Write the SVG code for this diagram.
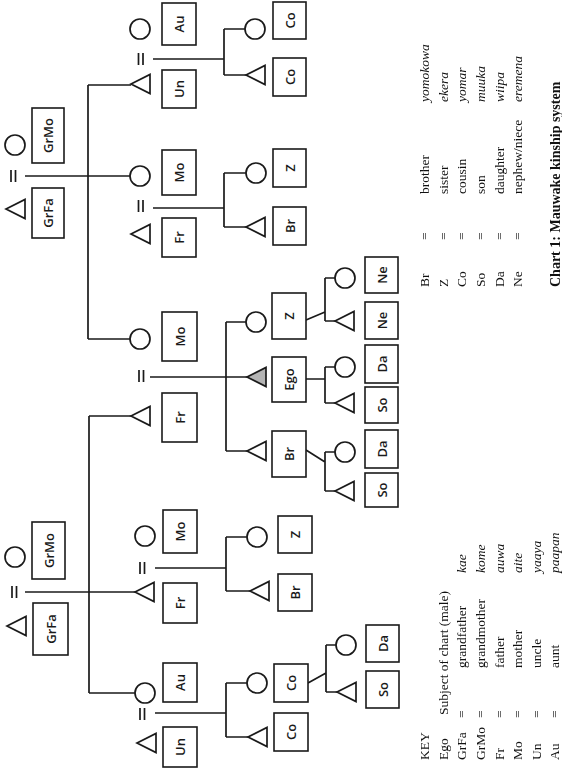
<svg xmlns="http://www.w3.org/2000/svg" xmlns:xlink="http://www.w3.org/1999/xlink" width="562" height="768" viewBox="0 0 562 768">
  <style>
    .ln { fill: none; stroke: #1a1a1a; stroke-width: 1.7; }
    .sym { fill: #fff; stroke: #1a1a1a; stroke-width: 1.7; }
    .ego { fill: #b4b4b4; stroke: #1a1a1a; stroke-width: 1.7; }
    .bx { fill: #fff; stroke: #1a1a1a; stroke-width: 1.6; }
    .lbl { font-family: "Open Sans", "DejaVu Sans", sans-serif; font-size: 13px; font-weight: 600; fill: #1a1a1a; text-anchor: middle; dominant-baseline: central; }
    .key { font-family: "Liberation Serif", "Times New Roman", serif; font-size: 13.5px; fill: #111; }
    .it { font-style: italic; }
    .ttl { font-family: "Liberation Serif", "Times New Roman", serif; font-size: 14px; font-weight: bold; fill: #111; }
  </style>
  <defs>
    <!-- male symbol: triangle with its apex on the left -->
    <path id="tri" d="M0 0 L19 -9.5 L19 9.5 Z"/>
    <!-- marriage sign drawn as two short bars -->
    <path id="eq" d="M0 0 v12 M4.5 0 v12"/>
    <!-- pass-through filter: renders the key in its own buffer with grey-scale smoothing -->
    <filter id="flat" x="0" y="0" width="1" height="1">
      <feOffset dx="0" dy="0"/>
    </filter>
  </defs>

  <!-- connectors -->
  <g id="connectors" class="ln">
    <!-- upper grandparents -->
    <use xlink:href="#eq" x="11" y="170"/>
    <path d="M25 176 H130"/>
    <path d="M88 85 V339 M88 85 H131 M88 339 H130"/>
    <!-- Un = Au (upper) -->
    <use xlink:href="#eq" x="138.5" y="53"/>
    <path d="M153 59 H224 M224 29 V75 M224 29 H245 M224 75 H246"/>
    <!-- Fr = Mo (upper) -->
    <use xlink:href="#eq" x="138.5" y="200"/>
    <path d="M153 208 H224 M224 173 V227 M224 173 H246 M224 227 H246"/>
    <!-- Ego's parents -->
    <use xlink:href="#eq" x="139" y="370"/>
    <path d="M150 377 H247 M226 322 V451 M226 322 H246 M226 451 H247"/>
    <!-- Z's children -->
    <path d="M306 320 L325 312 M325 278 V321 M325 278 H335 M325 321 H335"/>
    <!-- Ego's children -->
    <path d="M306 379 H325 M325 367 V403 M325 367 H335 M325 403 H335"/>
    <!-- Br's children -->
    <path d="M306 450 L325 462 M325 452 V491 M325 452 H335 M325 491 H335"/>
    <!-- lower grandparents -->
    <use xlink:href="#eq" x="12" y="586"/>
    <path d="M25 592 H135"/>
    <path d="M89 416 V693 M89 416 H131 M89 693 H135"/>
    <!-- Fr = Mo (lower) -->
    <use xlink:href="#eq" x="140" y="562"/>
    <path d="M155 568 H226 M226 537 V591 M226 537 H247 M226 591 H250"/>
    <!-- Un = Au (lower) -->
    <use xlink:href="#eq" x="140" y="708"/>
    <path d="M155 713 H226 M226 683 V737 M226 683 H247 M226 737 H248"/>
    <!-- Co's children -->
    <path d="M308 683 L326 673 M326 645 V692 M326 645 H336 M326 692 H337"/>
  </g>

  <!-- upper grandparents -->
  <g id="grfa-1"><use xlink:href="#tri" class="sym" x="6" y="209"/><rect class="bx" x="32" y="188" width="32" height="50"/><text class="lbl" x="48" y="213" transform="rotate(-90 48 213)">GrFa</text></g>
  <g id="grmo-1"><circle class="sym" cx="15" cy="145" r="10"/><rect class="bx" x="32" y="108" width="32" height="55"/><text class="lbl" x="48" y="135.5" transform="rotate(-90 48 135.5)">GrMo</text></g>

  <g id="un-1"><use xlink:href="#tri" class="sym" x="131" y="84"/><rect class="bx" x="162" y="70" width="34" height="38"/><text class="lbl" x="179" y="89" transform="rotate(-90 179 89)">Un</text></g>
  <g id="au-1"><circle class="sym" cx="140" cy="29" r="10"/><rect class="bx" x="162" y="3" width="34" height="42"/><text class="lbl" x="179" y="24" transform="rotate(-90 179 24)">Au</text></g>
  <g id="mo-1"><circle class="sym" cx="140" cy="176" r="10"/><rect class="bx" x="162" y="150" width="34" height="45"/><text class="lbl" x="179" y="172.5" transform="rotate(-90 179 172.5)">Mo</text></g>
  <g id="fr-1"><use xlink:href="#tri" class="sym" x="131" y="234"/><rect class="bx" x="162" y="218" width="34" height="39"/><text class="lbl" x="179" y="237.5" transform="rotate(-90 179 237.5)">Fr</text></g>

  <g id="co-1"><circle class="sym" cx="255" cy="29" r="10"/><rect class="bx" x="273" y="2" width="33" height="37"/><text class="lbl" x="289.5" y="20.5" transform="rotate(-90 289.5 20.5)">Co</text></g>
  <g id="co-2"><use xlink:href="#tri" class="sym" x="246" y="75"/><rect class="bx" x="273" y="58" width="33" height="38"/><text class="lbl" x="289.5" y="77" transform="rotate(-90 289.5 77)">Co</text></g>
  <g id="z-1"><circle class="sym" cx="256" cy="173" r="10"/><rect class="bx" x="273" y="149" width="33" height="38"/><text class="lbl" x="289.5" y="168" transform="rotate(-90 289.5 168)">Z</text></g>
  <g id="br-1"><use xlink:href="#tri" class="sym" x="246" y="227"/><rect class="bx" x="273" y="207" width="33" height="38"/><text class="lbl" x="289.5" y="226" transform="rotate(-90 289.5 226)">Br</text></g>

  <!-- Ego's parents and siblings -->
  <g id="mo-ego"><circle class="sym" cx="140" cy="339" r="10"/><rect class="bx" x="162" y="312" width="35" height="49"/><text class="lbl" x="179.5" y="336.5" transform="rotate(-90 179.5 336.5)">Mo</text></g>
  <g id="fr-ego"><use xlink:href="#tri" class="sym" x="131" y="416"/><rect class="bx" x="162" y="393" width="35" height="49"/><text class="lbl" x="179.5" y="417.5" transform="rotate(-90 179.5 417.5)">Fr</text></g>
  <g id="z-ego"><circle class="sym" cx="256" cy="322" r="10"/><rect class="bx" x="272" y="293" width="34" height="46"/><text class="lbl" x="289" y="316" transform="rotate(-90 289 316)">Z</text></g>
  <g id="ego"><use xlink:href="#tri" class="ego" x="247" y="377"/><rect class="bx" x="272" y="357" width="34" height="45"/><text class="lbl" x="289" y="379.5" transform="rotate(-90 289 379.5)">Ego</text></g>
  <g id="br-ego"><use xlink:href="#tri" class="sym" x="247" y="451"/><rect class="bx" x="272" y="431" width="34" height="46"/><text class="lbl" x="289" y="454" transform="rotate(-90 289 454)">Br</text></g>

  <!-- Ego's generation's children -->
  <g id="ne-1"><circle class="sym" cx="345" cy="278" r="10"/><rect class="bx" x="365" y="257" width="33" height="36"/><text class="lbl" x="381.5" y="275" transform="rotate(-90 381.5 275)">Ne</text></g>
  <g id="ne-2"><use xlink:href="#tri" class="sym" x="335" y="321"/><rect class="bx" x="365" y="302" width="33" height="37"/><text class="lbl" x="381.5" y="320.5" transform="rotate(-90 381.5 320.5)">Ne</text></g>
  <g id="da-ego"><circle class="sym" cx="345" cy="367" r="10"/><rect class="bx" x="365" y="345" width="33" height="38"/><text class="lbl" x="381.5" y="364" transform="rotate(-90 381.5 364)">Da</text></g>
  <g id="so-ego"><use xlink:href="#tri" class="sym" x="335" y="403"/><rect class="bx" x="365" y="387" width="33" height="36"/><text class="lbl" x="381.5" y="405" transform="rotate(-90 381.5 405)">So</text></g>
  <g id="da-br"><circle class="sym" cx="345" cy="452" r="10"/><rect class="bx" x="365" y="430" width="33" height="38"/><text class="lbl" x="381.5" y="449" transform="rotate(-90 381.5 449)">Da</text></g>
  <g id="so-br"><use xlink:href="#tri" class="sym" x="335" y="491"/><rect class="bx" x="365" y="473" width="33" height="34"/><text class="lbl" x="381.5" y="490" transform="rotate(-90 381.5 490)">So</text></g>

  <!-- lower grandparents -->
  <g id="grmo-2"><circle class="sym" cx="15" cy="557" r="10"/><rect class="bx" x="32" y="522" width="33" height="57"/><text class="lbl" x="48.5" y="550.5" transform="rotate(-90 48.5 550.5)">GrMo</text></g>
  <g id="grfa-2"><use xlink:href="#tri" class="sym" x="7" y="626"/><rect class="bx" x="33" y="603" width="35" height="52"/><text class="lbl" x="50.5" y="629" transform="rotate(-90 50.5 629)">GrFa</text></g>

  <g id="mo-2"><circle class="sym" cx="145" cy="536" r="10"/><rect class="bx" x="163" y="510" width="34" height="43"/><text class="lbl" x="180" y="531.5" transform="rotate(-90 180 531.5)">Mo</text></g>
  <g id="fr-2"><use xlink:href="#tri" class="sym" x="135" y="592"/><rect class="bx" x="163" y="583" width="34" height="40"/><text class="lbl" x="180" y="603" transform="rotate(-90 180 603)">Fr</text></g>
  <g id="au-2"><circle class="sym" cx="145" cy="693" r="10"/><rect class="bx" x="163" y="663" width="34" height="39"/><text class="lbl" x="180" y="682.5" transform="rotate(-90 180 682.5)">Au</text></g>
  <g id="un-2"><use xlink:href="#tri" class="sym" x="137" y="743"/><rect class="bx" x="163" y="727" width="34" height="40"/><text class="lbl" x="180" y="747" transform="rotate(-90 180 747)">Un</text></g>

  <g id="z-2"><circle class="sym" cx="257" cy="537" r="10"/><rect class="bx" x="278" y="516" width="34" height="37"/><text class="lbl" x="295" y="534.5" transform="rotate(-90 295 534.5)">Z</text></g>
  <g id="br-2"><use xlink:href="#tri" class="sym" x="250" y="591"/><rect class="bx" x="278" y="574" width="34" height="37"/><text class="lbl" x="295" y="592.5" transform="rotate(-90 295 592.5)">Br</text></g>
  <g id="co-3"><circle class="sym" cx="257" cy="683" r="10"/><rect class="bx" x="274" y="664" width="34" height="38"/><text class="lbl" x="291" y="683" transform="rotate(-90 291 683)">Co</text></g>
  <g id="co-4"><use xlink:href="#tri" class="sym" x="248" y="737"/><rect class="bx" x="274" y="713" width="34" height="38"/><text class="lbl" x="291" y="732" transform="rotate(-90 291 732)">Co</text></g>
  <g id="da-co"><circle class="sym" cx="346" cy="645" r="10"/><rect class="bx" x="366" y="625" width="33" height="37"/><text class="lbl" x="382.5" y="643.5" transform="rotate(-90 382.5 643.5)">Da</text></g>
  <g id="so-co"><use xlink:href="#tri" class="sym" x="337" y="692"/><rect class="bx" x="366" y="671" width="33" height="37"/><text class="lbl" x="382.5" y="689.5" transform="rotate(-90 382.5 689.5)">So</text></g>

  <!-- key and caption, set along the page's long side -->
  <g filter="url(#flat)">
  <g id="key" transform="rotate(-90)">
    <g class="key">
      <text x="-760" y="429">KEY</text>
      <text x="-760" y="447.5">Ego</text><text x="-715" y="447.5">Subject of chart  (male)</text>
      <text x="-760" y="466">GrFa</text><text x="-718" y="466">=</text><text x="-668" y="466">grandfather</text><text class="it" x="-573" y="466">kae</text>
      <text x="-760" y="485">GrMo</text><text x="-718" y="485">=</text><text x="-668" y="485">grandmother</text><text class="it" x="-573" y="485">kome</text>
      <text x="-760" y="503.5">Fr</text><text x="-718" y="503.5">=</text><text x="-668" y="503.5">father</text><text class="it" x="-573" y="503.5">auwa</text>
      <text x="-760" y="522">Mo</text><text x="-718" y="522">=</text><text x="-668" y="522">mother</text><text class="it" x="-573" y="522">aite</text>
      <text x="-760" y="540.5">Un</text><text x="-718" y="540.5">=</text><text x="-668" y="540.5">uncle</text><text class="it" x="-573" y="540.5">yaaya</text>
      <text x="-760" y="559">Au</text><text x="-718" y="559">=</text><text x="-668" y="559">aunt</text><text class="it" x="-573" y="559">paapan</text>

      <text x="-287" y="429">Br</text><text x="-240" y="429">=</text><text x="-194" y="429">brother</text><text class="it" x="-102" y="429">yomokowa</text>
      <text x="-287" y="447.5">Z</text><text x="-240" y="447.5">=</text><text x="-194" y="447.5">sister</text><text class="it" x="-102" y="447.5">ekera</text>
      <text x="-287" y="466">Co</text><text x="-240" y="466">=</text><text x="-194" y="466">cousin</text><text class="it" x="-102" y="466">yomar</text>
      <text x="-287" y="485">So</text><text x="-240" y="485">=</text><text x="-194" y="485">son</text><text class="it" x="-102" y="485">muuka</text>
      <text x="-287" y="503.5">Da</text><text x="-240" y="503.5">=</text><text x="-194" y="503.5">daughter</text><text class="it" x="-102" y="503.5">wiipa</text>
      <text x="-287" y="522">Ne</text><text x="-240" y="522">=</text><text x="-194" y="522">nephew/niece</text><text class="it" x="-102" y="522">eremena</text>
    </g>
    <text class="ttl" x="-287" y="560">Chart 1: Mauwake kinship system</text>
  </g>
  </g>
</svg>
